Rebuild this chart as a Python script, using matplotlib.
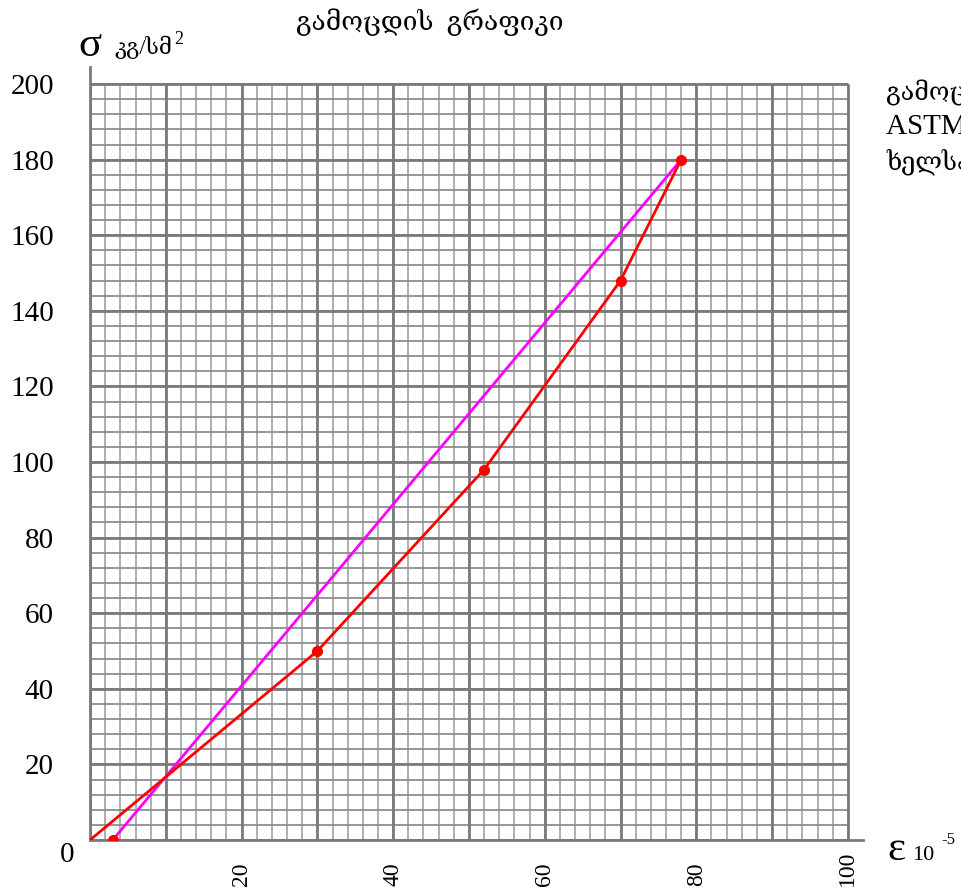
import matplotlib
matplotlib.use('Agg')
import matplotlib.pyplot as plt
import numpy as np

# test data
eps_test = [0, 30, 52, 70, 78]          # strain, 10^-5
sigma_test = [0, 50, 98, 148, 180]      # stress, kg/cm2
eps_line = [3, 78]                      # secant (magenta) line
sigma_line = [0, 180]

x_ticks = [20, 40, 60, 80, 100]
y_ticks = [20, 40, 60, 80, 100, 120, 140, 160, 180, 200]

serif = ['Liberation Serif', 'DejaVu Serif', 'DejaVu Sans']
plt.rcParams['font.family'] = serif

fig = plt.figure(figsize=(9.62, 8.90), dpi=100)
ax = fig.add_axes([0.0936, 0.0562, 0.8035, 0.8685])
ax.set_xlim(0, 102)
ax.set_ylim(0, 204.5)

# graph-paper grid, only over 0..100 x 0..200
minor_x = np.arange(0, 101, 2)
minor_y = np.arange(0, 201, 4)
ax.vlines(minor_x, 0, 200, color='#a8a8a8', lw=1.3, zorder=1)
ax.hlines(minor_y, 0, 100, color='#8c8c8c', lw=1.3, zorder=1)
ax.vlines(np.arange(0, 101, 10), 0, 200, color='#7a7a7a', lw=2.0, zorder=1.5)
ax.hlines(np.arange(0, 201, 20), 0, 100, color='#7a7a7a', lw=2.0, zorder=1.5)

for s in ['top', 'right']:
    ax.spines[s].set_visible(False)
for s in ['left', 'bottom']:
    ax.spines[s].set_color('#7a7a7a')
    ax.spines[s].set_linewidth(2.0)

ax.plot(eps_line, sigma_line, color='#ff00ff', lw=2, zorder=3)
ax.plot(eps_line[:1], sigma_line[:1], 'o', color='red', ms=7, zorder=4)
ax.plot(eps_test, sigma_test, color='red', lw=2, zorder=3)
ax.plot(eps_test[1:], sigma_test[1:], 'o', color='red', ms=7, zorder=4)

ax.set_yticks(y_ticks)
ax.set_yticklabels([str(v) for v in y_ticks], fontsize=21)
ax.tick_params(axis='y', length=0, pad=26)
ax.set_xticks(x_ticks)
ax.set_xticklabels([str(v) for v in x_ticks], fontsize=17, rotation=90)
ax.tick_params(axis='x', length=0, pad=33)
for t in ax.get_xticklabels():
    t.set_verticalalignment('bottom')

fig.text(67 / 962, 1 - 855 / 890, '0', fontsize=21, ha='center', va='center')

# axis captions
fig.text(90 / 962, 1 - 46 / 890, 'σ', fontsize=31, ha='center', va='center')
fig.text(114 / 962, 1 - 47 / 890, 'კგ/სმ', fontsize=16, ha='left', va='center')
fig.text(174 / 962, 1 - 40 / 890, '2', fontsize=13, ha='left', va='center')
fig.text(896 / 962, 1 - 850 / 890, 'ε', fontsize=31, ha='center', va='center')
fig.text(912 / 962, 1 - 855 / 890, '10', fontsize=16, ha='left', va='center')
fig.text(941 / 962, 1 - 840 / 890, '-5', fontsize=12, ha='left', va='center')

fig.text(430 / 962, 1 - 22 / 890, 'გამოცდის  გრაფიკი', fontsize=19, ha='center', va='center')

fig.text(886 / 962, 1 - 92 / 890, 'გამოცდის მეთოდი', fontsize=18, ha='left', va='center')
fig.text(886 / 962, 1 - 127 / 890, 'ASTM C469', fontsize=21, ha='left', va='center')
fig.text(886 / 962, 1 - 162 / 890, 'ხელსაწყო', fontsize=18, ha='left', va='center')

fig.savefig('out.png', dpi=100)
